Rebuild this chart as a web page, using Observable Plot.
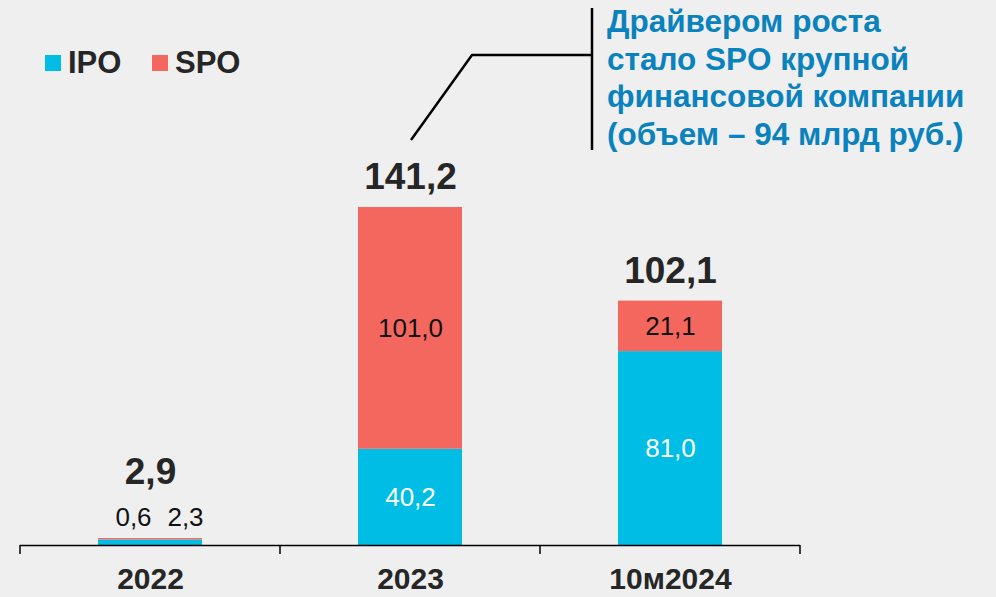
<!DOCTYPE html>
<html><head><meta charset="utf-8">
<script src="https://cdn.jsdelivr.net/npm/d3@7"></script>
<script src="https://cdn.jsdelivr.net/npm/@observablehq/plot@0.6"></script>
<style>
body{margin:0;background:#efefef;font-family:"Liberation Sans",Arial,sans-serif;}
#wrap{position:relative;width:996px;height:597px;overflow:hidden;background:#efefef;}
#wrap svg{position:absolute;left:0;top:0;overflow:visible;}
.leg{position:absolute;top:45px;display:flex;align-items:center;font-weight:bold;font-size:31px;color:#262626;}
.leg span.sw{display:inline-block;width:16px;height:16px;margin-right:7px;}
#note{position:absolute;left:607px;top:3px;color:#0a82be;font-weight:bold;font-size:31.5px;line-height:37.5px;}
</style></head>
<body><div id="wrap"></div>
<script>
const categories = ["2022", "2023", "10м2024"];
const ipo = [2.3, 40.2, 81.0];
const spo = [0.6, 101.0, 21.1];
const totals = [2.9, 141.2, 102.1];
const seriesNames = ["IPO", "SPO"];
const seriesColors = ["#00bde6", "#f4675f"];
const noteLines = ["Драйвером роста", "стало SPO крупной", "финансовой компании", "(объем – 94 млрд руб.)"];

const fmt = v => v.toFixed(1).replace(".", ",");
const rows = [];
categories.forEach((c, i) => {
  rows.push({cat: c, type: "IPO", value: ipo[i], total: totals[i]});
  rows.push({cat: c, type: "SPO", value: spo[i], total: totals[i]});
});
const totalRows = categories.map((c, i) => ({cat: c, total: totals[i]}));

const decor = (index, scales) => {
  const x = scales.x, y = scales.y;
  const step = x(categories[1]) - x(categories[0]);
  const bw = typeof x.bandwidth === "function" ? x.bandwidth() : (x.bandwidth ?? step * 0.4);
  const g = d3.create("svg:g").attr("stroke", "#000").attr("fill", "none");
  const y0 = y(0);
  const start = x(categories[0]) - (step - bw) / 2;
  for (let i = 0; i <= categories.length; i++) {
    const xx = start + i * step;
    g.append("line").attr("x1", xx).attr("x2", xx).attr("y1", y0).attr("y2", y0 + 9).attr("stroke-width", 1.5);
  }
  // callout for 2023
  const cx = x("2023") + bw / 2 + 1;
  const top = y(totals[1]);
  const p1 = [cx, top - 67];
  const p2 = [cx + 61, top - 152];
  const p3 = [cx + 181, top - 152];
  g.append("path").attr("d", `M${p1}L${p2}L${p3}`).attr("stroke-width", 2.5);
  g.append("line").attr("x1", p3[0]).attr("x2", p3[0]).attr("y1", top - 199).attr("y2", top - 57).attr("stroke-width", 2.5);
  return g.node();
};

const chart = Plot.plot({
  width: 996, height: 597,
  marginLeft: 20, marginRight: 196, marginTop: 207, marginBottom: 52,
  style: {background: "transparent", fontFamily: "Liberation Sans, Arial, sans-serif"},
  x: {type: "band", domain: categories, paddingInner: 0.6, paddingOuter: 0.3, axis: null},
  y: {domain: [0, d3.max(totals)], axis: null},
  color: {domain: seriesNames, range: seriesColors},
  marks: [
    Plot.barY(rows, {x: "cat", y: "value", fill: "type", order: seriesNames}),
    Plot.ruleY([0], {stroke: "#000", strokeWidth: 1.5}),
    Plot.text(rows, Plot.stackY({x: "cat", y: "value", z: "type", order: seriesNames,
      text: d => (d.cat !== "2022" && d.type === "IPO") ? fmt(d.value) : null,
      fill: "white", fontSize: 26})),
    Plot.text(rows, Plot.stackY({x: "cat", y: "value", z: "type", order: seriesNames,
      text: d => (d.cat !== "2022" && d.type === "SPO") ? fmt(d.value) : null,
      fill: "#111", fontSize: 26})),
    // 2022 small labels side by side
    Plot.text(rows.filter(d => d.cat === "2022" && d.type === "SPO"), {x: "cat", y: "total", text: d => fmt(d.value), dx: -17, dy: -21, fontSize: 26, fill: "#111"}),
    Plot.text(rows.filter(d => d.cat === "2022" && d.type === "IPO"), {x: "cat", y: "total", text: d => fmt(d.value), dx: 35, dy: -21, fontSize: 26, fill: "#111"}),
    Plot.text(totalRows.filter(d => d.cat !== "2022"), {x: "cat", y: "total", text: d => fmt(d.total), dy: -30, fontSize: 37, fontWeight: "bold", fill: "#262626"}),
    Plot.text(totalRows.filter(d => d.cat === "2022"), {x: "cat", y: "total", text: d => fmt(d.total), dy: -66, fontSize: 37, fontWeight: "bold", fill: "#262626"}),
    Plot.text(categories, {x: d => d, frameAnchor: "bottom", dy: 43, fontSize: 30, fontWeight: "bold", fill: "#262626"}),
    decor
  ]
});
const wrap = document.getElementById("wrap");
wrap.appendChild(chart);

const legX = [45, 152];
seriesNames.forEach((n, i) => {
  const d = document.createElement("div");
  d.className = "leg";
  d.style.left = legX[i] + "px";
  d.innerHTML = `<span class="sw" style="background:${seriesColors[i]}"></span>${n}`;
  wrap.appendChild(d);
});
const note = document.createElement("div");
note.id = "note";
note.innerHTML = noteLines.join("<br>");
wrap.appendChild(note);
</script></body></html>
